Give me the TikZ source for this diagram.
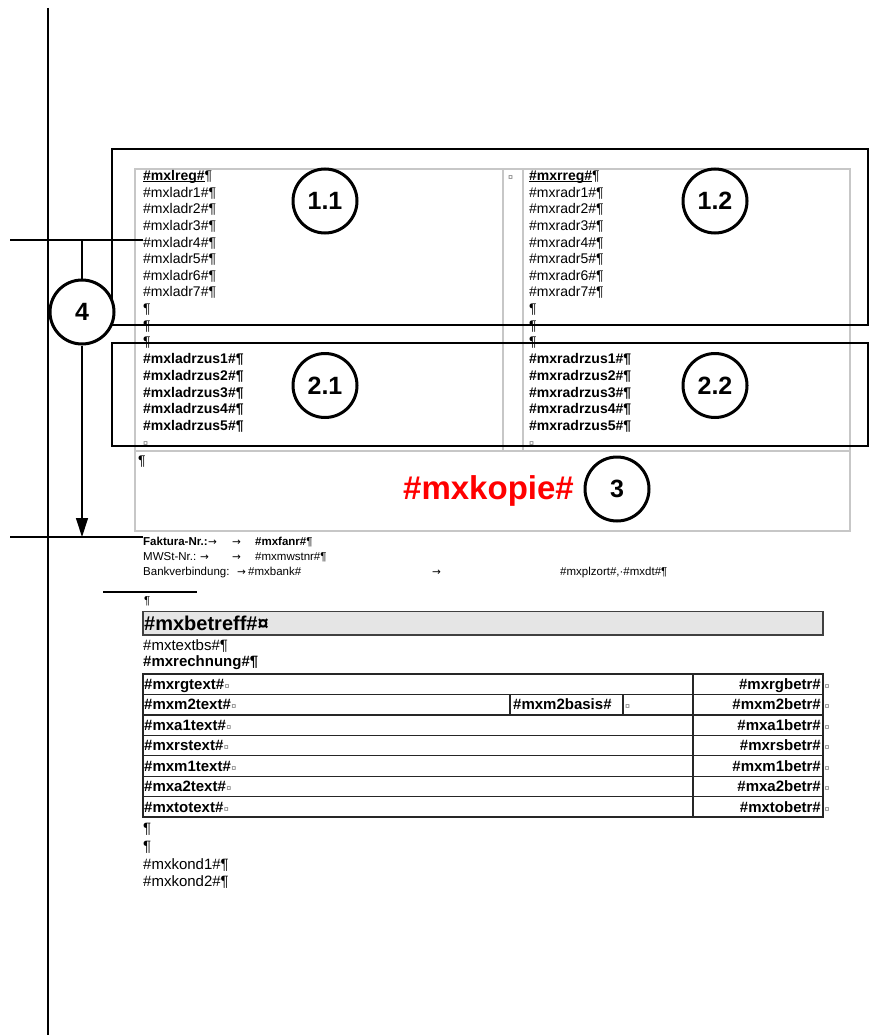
\documentclass[tikz,border=0pt]{standalone}
\usepackage{fontspec}
\setmainfont{Liberation Sans}
\newfontfamily\arrfont{DejaVu Sans}
\usetikzlibrary{arrows.meta}

\newcommand\ulbold[1]{{\setbox0\hbox{\bfseries #1}\rlap{\rule[-1.8pt]{\wd0}{1pt}}\box0}}

\tikzset{
  rule/.style={line width=1.2pt},
  frame/.style={draw, line width=2.3pt},
  grid/.style={draw=black!22, line width=1.1pt},
  tabline/.style={draw=black!85, line width=1.1pt},
  txt/.style={anchor=base west, inner sep=0pt, font=\fontsize{14}{16}\selectfont},
  btxt/.style={txt, font=\fontsize{14}{16}\selectfont\bfseries},
  body/.style={anchor=base west, inner sep=0pt, font=\fontsize{15}{17}\selectfont},
  tab/.style={anchor=base west, inner sep=0pt, font=\fontsize{15}{17}\selectfont\bfseries},
  small/.style={anchor=base west, inner sep=0pt, font=\fontsize{11.5}{13}\selectfont},
  arr/.style={anchor=base west, inner sep=0pt, font=\arrfont\fontsize{10.5}{12}\selectfont},
  cur/.style={anchor=base west, inner sep=0pt, text=black!55, font=\fontsize{9}{10}\selectfont},
  num/.style={circle, draw, fill=white, line width=3pt, minimum size=64pt, inner sep=0pt,
    font=\fontsize{25}{25}\selectfont\bfseries},
}

\begin{document}
\begin{tikzpicture}[x=1pt,y=-1pt]
\useasboundingbox (0,0) rectangle (892,1035);

% page margin
\coordinate (mtop) at (48,8);
\coordinate (mbot) at (48,1035);
\draw[rule] (mtop) -- (mbot);

% address table
\draw[grid] (135,169) rectangle (850,531);
\draw[grid] (503,169) -- (503,451) (523,169) -- (523,451) (135,451) -- (850,451);
\node[cur] (sep) at (508,180) {¤};

% left address
\node[txt] (lreg) at (143,180.7) {\ulbold{\#mxlreg\#}¶};
\foreach \i in {1,...,7}
  \node[txt] (ladr\i) at (143,180.7+16.6*\i) {\#mxladr\i\#¶};
\foreach \i in {8,9,10}
  \node[txt] (lpar\i) at (143,180.7+16.6*\i) {¶};
\foreach \i in {1,...,5}
  \node[btxt] (lzus\i) at (143,347.2+16.6*\i) {\#mxladrzus\i\#¶};
\node[cur] (lend) at (143,446.5) {¤};

% right address
\node[txt] (rreg) at (529,180.7) {\ulbold{\#mxrreg\#}¶};
\foreach \i in {1,...,7}
  \node[txt] (radr\i) at (529,180.7+16.6*\i) {\#mxradr\i\#¶};
\foreach \i in {8,9,10}
  \node[txt] (rpar\i) at (529,180.7+16.6*\i) {¶};
\foreach \i in {1,...,5}
  \node[btxt] (rzus\i) at (529,347.2+16.6*\i) {\#mxradrzus\i\#¶};
\node[cur] (rend) at (529,446.5) {¤};

% copy line
\node[txt] (kpar) at (138,465) {¶};
\node[anchor=base west, inner sep=0pt, text=red, font=\fontsize{33}{33}\selectfont\bfseries]
  (kopie) at (403,499) {\#mxkopie\#};

% marked areas
\draw[frame] (112,149) rectangle (868,325);
\draw[frame] (112,343) rectangle (868,446);
\node[num] (c11) at (325,201) {1.1};
\node[num] (c12) at (715,201) {1.2};
\node[num] (c21) at (325,385.5) {2.1};
\node[num] (c22) at (715,385.5) {2.2};
\node[num] (c3) at (617,489) {3};
\node[num] (c4) at (82,312) {4};

% distance marker
\coordinate (h1l) at (10,240);
\coordinate (h1r) at (143,240);
\coordinate (h2l) at (10,537);
\coordinate (h2r) at (143,537);
\coordinate (v4) at (82,240);
\coordinate (tip4) at (82,537);
\draw[rule] (h1l) -- (h1r);
\draw[rule] (h2l) -- (h2r);
\draw[rule] (v4) -- (c4);
\draw[rule, -{Triangle[length=19pt,width=12pt]}] (c4) -- (tip4);

% invoice data
\node[small, font=\fontsize{11.5}{13}\selectfont\bfseries] (fnr) at (143,545) {Faktura-Nr.:};
\node[arr] (fa1) at (208,545) {→};
\node[arr] (fa2) at (232,545) {→};
\node[small] (fanr) at (255,545) {\textbf{\#mxfanr\#}¶};
\node[small] (mwst) at (143,560) {MWSt-Nr.:};
\node[arr] (ma1) at (200,560) {→};
\node[arr] (ma2) at (232,560) {→};
\node[small] (mwnr) at (255,560) {\#mxmwstnr\#¶};
\node[small] (bank) at (143,575) {Bankverbindung:};
\node[arr] (ba1) at (237,575) {→};
\node[small] (bknr) at (248,575) {\#mxbank\#};
\node[arr] (ba2) at (432,575) {→};
\node[small] (ort) at (560,575) {\#mxplzort\#,·\#mxdt\#¶};

\coordinate (s1) at (103,592);
\coordinate (s2) at (197,592);
\draw[rule] (s1) -- (s2);
\node[small] (spar) at (144,604) {¶};

% subject
\draw[draw=black!75, fill=black!10, line width=1.1pt] (143,611.5) rectangle (823,635);
\node[anchor=base west, inner sep=0pt, font=\fontsize{20}{20}\selectfont\bfseries]
  (betreff) at (144,630.5) {\#mxbetreff\#¤};
\node[body] (textbs) at (143,650) {\#mxtextbs\#¶};
\node[tab] (rechnung) at (143,666.5) {\#mxrechnung\#¶};

% invoice table
\draw[tabline] (143,674) rectangle (823,817);
\foreach \k in {1,...,6}
  \draw[tabline] (143,674+20.43*\k) -- (823,674+20.43*\k);
\draw[tabline, line width=1.8pt] (143,694.4) -- (823,694.4) (143,714.9) -- (823,714.9);
\draw[tabline] (693,674) -- (693,817);
\draw[tabline] (510,694.4) -- (510,714.9) (623,694.4) -- (623,714.9);
\foreach \t/\b [count=\k from 0] in {rgtext/rgbetr, m2text/m2betr, a1text/a1betr,
    rstext/rsbetr, m1text/m1betr, a2text/a2betr, totext/tobetr} {
  \node[tab] (t\k) at (144,689.5+20.43*\k) {\#mx\t\#};
  \node[cur] at (t\k.base east) {¤};
  \node[tab, anchor=base east] (b\k) at (821,689.5+20.43*\k) {\#mx\b\#};
  \node[cur] at (824.5,689.5+20.43*\k) {¤};
}
\node[tab] (basis) at (513,709.9) {\#mxm2basis\#};
\node[cur] at (625,709.9) {¤};

% conditions
\node[body] (kp1) at (143,833) {¶};
\node[body] (kp2) at (143,851) {¶};
\node[body] (kond1) at (143,869) {\#mxkond1\#¶};
\node[body] (kond2) at (143,886) {\#mxkond2\#¶};
\end{tikzpicture}
\end{document}
